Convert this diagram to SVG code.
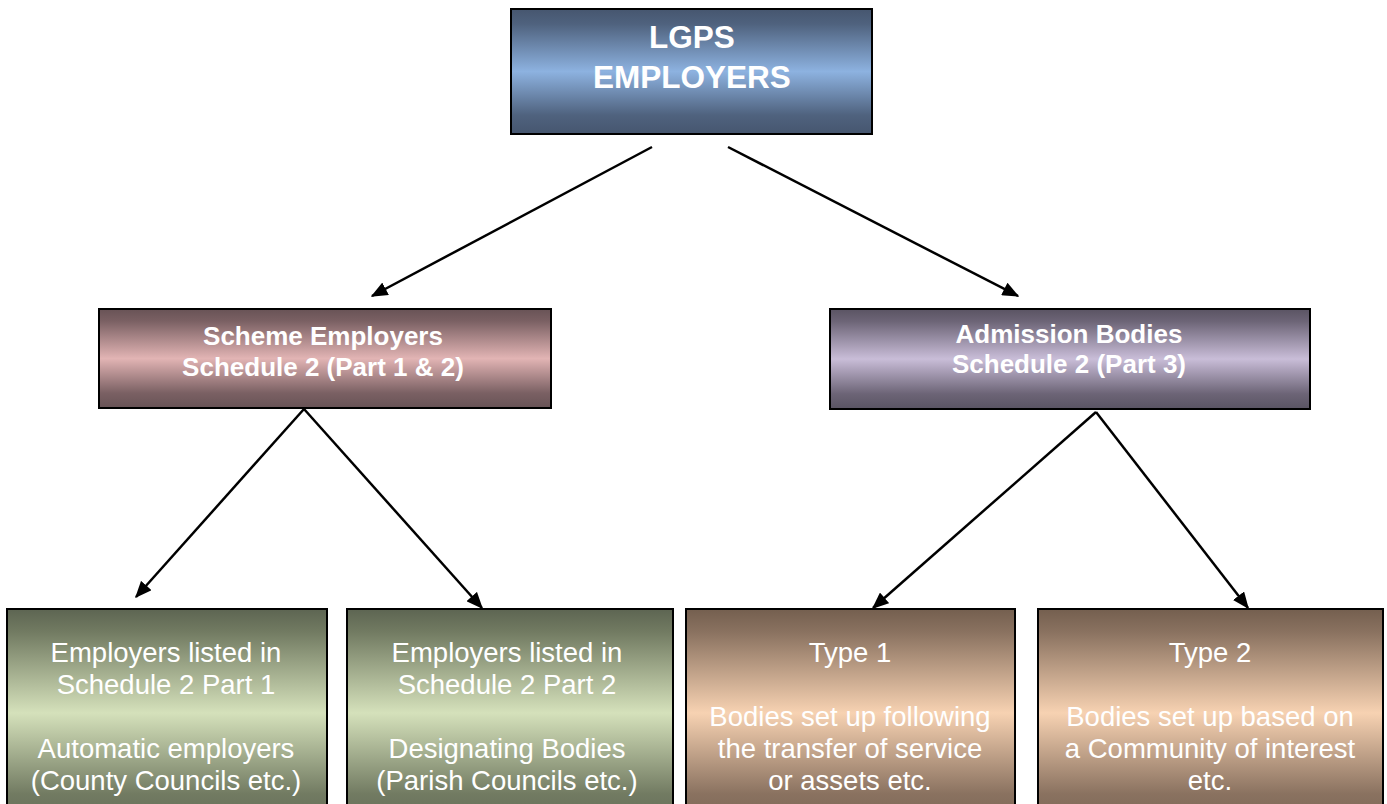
<svg xmlns="http://www.w3.org/2000/svg" width="1387" height="804" viewBox="0 0 1387 804">
<style>
.box{stroke:#000;stroke-width:2}
.t{fill:#fff;font-family:"Liberation Sans",Arial,sans-serif;text-anchor:middle}
.b{font-weight:bold}
.r{font-size:27.5px}
.con{stroke:#000;stroke-width:2.5;fill:none;marker-end:url(#ah)}
</style>
<defs>
<marker id="ah" viewBox="0 0 12 10" refX="11" refY="5" markerWidth="17" markerHeight="14" markerUnits="userSpaceOnUse" orient="auto">
<path d="M0,0 L12,5 L0,10 z" fill="#000"/>
</marker>
<linearGradient id="gBlue" x1="0" y1="0" x2="0" y2="1">
<stop offset="0" stop-color="#46566f"/><stop offset="0.12" stop-color="#4f627e"/><stop offset="0.5" stop-color="#8db2e0"/><stop offset="0.85" stop-color="#4f627e"/><stop offset="1" stop-color="#46566f"/>
</linearGradient>
<linearGradient id="gPink" x1="0" y1="0" x2="0" y2="1">
<stop offset="0" stop-color="#685356"/><stop offset="0.12" stop-color="#7a6063"/><stop offset="0.5" stop-color="#e2b4b4"/><stop offset="0.85" stop-color="#7a6063"/><stop offset="1" stop-color="#685356"/>
</linearGradient>
<linearGradient id="gPurple" x1="0" y1="0" x2="0" y2="1">
<stop offset="0" stop-color="#5a5463"/><stop offset="0.12" stop-color="#6c6476"/><stop offset="0.5" stop-color="#c9bdd8"/><stop offset="0.85" stop-color="#6c6476"/><stop offset="1" stop-color="#5a5463"/>
</linearGradient>
<linearGradient id="gGreen" x1="0" y1="609" x2="0" y2="840" gradientUnits="userSpaceOnUse">
<stop offset="0" stop-color="#5d6552"/><stop offset="0.1" stop-color="#727b62"/><stop offset="0.45" stop-color="#d5e1bb"/><stop offset="0.8" stop-color="#727b62"/><stop offset="1" stop-color="#5d6552"/>
</linearGradient>
<linearGradient id="gBrown" x1="0" y1="609" x2="0" y2="840" gradientUnits="userSpaceOnUse">
<stop offset="0" stop-color="#745f4f"/><stop offset="0.1" stop-color="#8a7260"/><stop offset="0.45" stop-color="#f7d2b2"/><stop offset="0.8" stop-color="#8a7260"/><stop offset="1" stop-color="#745f4f"/>
</linearGradient>
</defs>

<g id="connectors">
<line class="con" x1="652" y1="147" x2="372" y2="296"/>
<line class="con" x1="728" y1="147" x2="1018" y2="296"/>
<line class="con" x1="304" y1="409" x2="136" y2="597"/>
<line class="con" x1="304" y1="409" x2="482" y2="608"/>
<line class="con" x1="1096" y1="412" x2="873" y2="608"/>
<line class="con" x1="1096" y1="412" x2="1248" y2="608"/>
</g>

<g id="lgps">
<rect class="box" x="511" y="9" width="361" height="125" fill="url(#gBlue)"/>
<text class="t b" x="692" y="48" font-size="31.5">LGPS</text>
<text class="t b" x="692" y="88" font-size="31.5">EMPLOYERS</text>
</g>

<g id="scheme">
<rect class="box" x="99" y="309" width="452" height="99" fill="url(#gPink)"/>
<text class="t b" x="323" y="345" font-size="26">Scheme Employers</text>
<text class="t b" x="323" y="376" font-size="26">Schedule 2 (Part 1 &amp; 2)</text>
</g>

<g id="admission">
<rect class="box" x="830" y="309" width="480" height="100" fill="url(#gPurple)"/>
<text class="t b" x="1069" y="343" font-size="26">Admission Bodies</text>
<text class="t b" x="1069" y="373" font-size="26">Schedule 2 (Part 3)</text>
</g>

<g id="part1">
<rect class="box" x="7" y="609" width="320" height="205" fill="url(#gGreen)"/>
<text class="t r" x="166" y="662">Employers listed in</text>
<text class="t r" x="166" y="694">Schedule 2 Part 1</text>
<text class="t r" x="166" y="758">Automatic employers</text>
<text class="t r" x="166" y="790">(County Councils etc.)</text>
</g>

<g id="part2">
<rect class="box" x="347" y="609" width="326" height="205" fill="url(#gGreen)"/>
<text class="t r" x="507" y="662">Employers listed in</text>
<text class="t r" x="507" y="694">Schedule 2 Part 2</text>
<text class="t r" x="507" y="758">Designating Bodies</text>
<text class="t r" x="507" y="790">(Parish Councils etc.)</text>
</g>

<g id="type1">
<rect class="box" x="686" y="609" width="329" height="205" fill="url(#gBrown)"/>
<text class="t r" x="850" y="662">Type 1</text>
<text class="t r" x="850" y="726">Bodies set up following</text>
<text class="t r" x="850" y="758">the transfer of service</text>
<text class="t r" x="850" y="790">or assets etc.</text>
</g>

<g id="type2">
<rect class="box" x="1038" y="609" width="345" height="205" fill="url(#gBrown)"/>
<text class="t r" x="1210" y="662">Type 2</text>
<text class="t r" x="1210" y="726">Bodies set up based on</text>
<text class="t r" x="1210" y="758">a Community of interest</text>
<text class="t r" x="1210" y="790">etc.</text>
</g>
</svg>
